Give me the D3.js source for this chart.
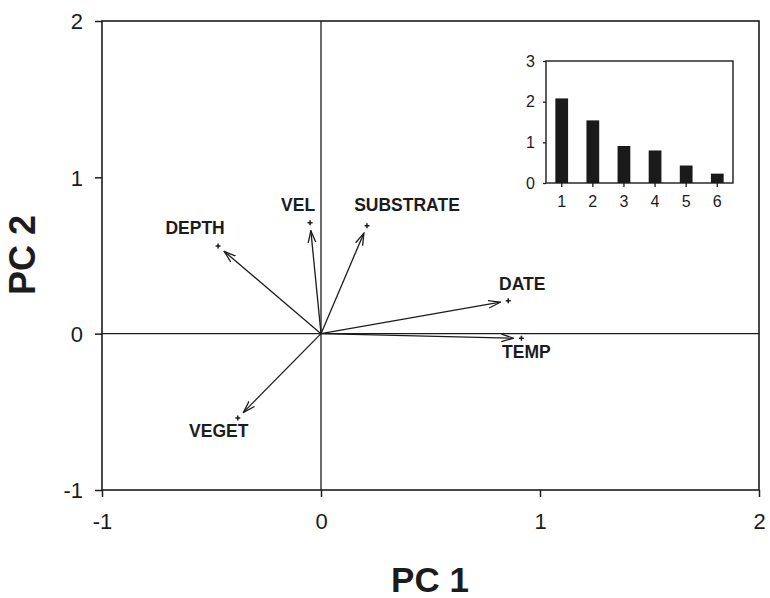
<!DOCTYPE html>
<html>
<head>
<meta charset="utf-8">
<script src="https://cdn.jsdelivr.net/npm/d3@7"></script>
<style>
  body { margin: 0; background: #fff; }
  text { font-family: "Liberation Sans", Arial, sans-serif; fill: #1c1c1c; }
</style>
</head>
<body>
<div id="chart"></div>
<script>
// Loadings of each variable on PC 1 / PC 2
var variables = ["DEPTH", "VEL", "SUBSTRATE", "DATE", "TEMP", "VEGET"];
var pc1 = [-0.47, -0.05, 0.21, 0.855, 0.915, -0.38];
var pc2 = [0.56, 0.71, 0.69, 0.21, -0.03, -0.54];

// Eigenvalues for the inset scree plot
var components = ["1", "2", "3", "4", "5", "6"];
var eigenvalues = [2.08, 1.54, 0.91, 0.80, 0.43, 0.23];

var xTicks = [-1, 0, 1, 2];
var yTicks = [-1, 0, 1, 2];
var insetTicks = [0, 1, 2, 3];

// Where each label sits relative to its point (pixels)
var labelOffset = {
    DEPTH: [-23, -12],
    VEL: [-12, -12],
    SUBSTRATE: [40, -15],
    DATE: [14, -11],
    TEMP: [5, 20],
    VEGET: [-19, 19]
};

var ink = "#1c1c1c";
// plain hyphen for negatives, like the original
var plain = function(d) { return String(d); };

var svg = d3.select("#chart")
    .append("svg")
    .attr("width", 770)
    .attr("height", 598);

// arrowhead: open V
svg.append("defs").append("marker")
    .attr("id", "arrow")
    .attr("viewBox", "0 0 13 10")
    .attr("refX", 12)
    .attr("refY", 5)
    .attr("markerWidth", 13)
    .attr("markerHeight", 10)
    .attr("markerUnits", "userSpaceOnUse")
    .attr("orient", "auto")
  .append("path")
    .attr("d", "M0,1.2 L12,5 L0,8.8")
    .attr("fill", "none")
    .attr("stroke", ink)
    .attr("stroke-width", 1.3);

var x = d3.scaleLinear().domain([-1, 2]).range([102, 759]);
var y = d3.scaleLinear().domain([-1, 2]).range([490, 21]);

// frame
svg.append("rect")
    .attr("x", x(-1))
    .attr("y", y(2))
    .attr("width", x(2) - x(-1))
    .attr("height", y(-1) - y(2))
    .attr("fill", "none")
    .attr("stroke", ink)
    .attr("stroke-width", 1.6);

// zero lines
svg.append("line")
    .attr("x1", x(0)).attr("x2", x(0))
    .attr("y1", y(2)).attr("y2", y(-1))
    .attr("stroke", ink).attr("stroke-width", 1.3);
svg.append("line")
    .attr("x1", x(-1)).attr("x2", x(2))
    .attr("y1", y(0)).attr("y2", y(0))
    .attr("stroke", ink).attr("stroke-width", 1.3);

// axes
var xAxis = svg.append("g")
    .attr("transform", "translate(0," + y(-1) + ")")
    .call(d3.axisBottom(x).tickValues(xTicks).tickSize(7).tickPadding(16).tickFormat(plain));
var yAxis = svg.append("g")
    .attr("transform", "translate(" + x(-1) + ",0)")
    .call(d3.axisLeft(y).tickValues(yTicks).tickSize(7).tickPadding(12).tickFormat(plain));

[xAxis, yAxis].forEach(function(a) {
    a.select(".domain").remove();
    a.selectAll(".tick line").attr("stroke", ink).attr("stroke-width", 1.5);
    a.selectAll(".tick text")
        .attr("font-size", 22)
        .attr("font-family", "Liberation Sans, Arial, sans-serif")
        .attr("fill", ink);
});
yAxis.selectAll(".tick text").attr("dy", "0.36em");

// axis titles
svg.append("text")
    .attr("x", 430)
    .attr("y", 592)
    .attr("text-anchor", "middle")
    .attr("font-size", 35)
    .attr("font-weight", "bold")
    .text("PC 1");

svg.append("text")
    .attr("transform", "translate(35,255) rotate(-90)")
    .attr("text-anchor", "middle")
    .attr("font-size", 36)
    .attr("font-weight", "bold")
    .text("PC 2");

// arrows from origin, stopping just short of each point
var points = variables.map(function(v, i) { return {name: v, x: pc1[i], y: pc2[i]}; });

function shorten(d, axis) {
    var dx = x(d.x) - x(0), dy = y(d.y) - y(0), len = Math.sqrt(dx * dx + dy * dy);
    var k = (len - 8) / len;
    return axis == "x" ? x(0) + dx * k : y(0) + dy * k;
}

svg.selectAll(".vector")
    .data(points)
    .enter()
    .append("line")
    .attr("class", "vector")
    .attr("x1", x(0))
    .attr("y1", y(0))
    .attr("x2", function(d) { return shorten(d, "x"); })
    .attr("y2", function(d) { return shorten(d, "y"); })
    .attr("stroke", ink)
    .attr("stroke-width", 1.3)
    .attr("marker-end", "url(#arrow)");

// small + markers at the points
var marks = svg.selectAll(".mark")
    .data(points)
    .enter()
    .append("g")
    .attr("class", "mark")
    .attr("transform", function(d) { return "translate(" + x(d.x) + "," + y(d.y) + ")"; });
marks.append("path")
    .attr("d", "M-2.5,0 H2.5 M0,-2.5 V2.5")
    .attr("stroke", ink)
    .attr("stroke-width", 1.5);
marks.append("text")
    .attr("x", function(d) { return labelOffset[d.name][0]; })
    .attr("y", function(d) { return labelOffset[d.name][1]; })
    .attr("text-anchor", "middle")
    .attr("font-size", 17.5)
    .attr("font-weight", "bold")
    .text(function(d) { return d.name; });

// inset scree plot
var ix = d3.scaleBand().domain(components).range([546, 733]).paddingInner(0.59).paddingOuter(0.3);
var iy = d3.scaleLinear().domain([0, 3]).range([183, 61]);

var inset = svg.append("g");
inset.append("rect")
    .attr("x", 546)
    .attr("y", iy(3))
    .attr("width", 733 - 546)
    .attr("height", iy(0) - iy(3))
    .attr("fill", "#fff")
    .attr("stroke", ink)
    .attr("stroke-width", 1.4);

inset.selectAll(".bar")
    .data(eigenvalues)
    .enter()
    .append("rect")
    .attr("class", "bar")
    .attr("x", function(d, i) { return ix(components[i]); })
    .attr("width", ix.bandwidth())
    .attr("y", function(d) { return iy(d); })
    .attr("height", function(d) { return iy(0) - iy(d); })
    .attr("fill", "#1a1a1a");

var ixAxis = inset.append("g")
    .attr("transform", "translate(0," + iy(0) + ")")
    .call(d3.axisBottom(ix).tickSize(4).tickPadding(9));
var iyAxis = inset.append("g")
    .attr("transform", "translate(546,0)")
    .call(d3.axisLeft(iy).tickValues(insetTicks).tickSize(3).tickPadding(8).tickFormat(plain));

[ixAxis, iyAxis].forEach(function(a) {
    a.select(".domain").remove();
    a.selectAll(".tick line").attr("stroke", ink).attr("stroke-width", 1.3);
    a.selectAll(".tick text")
        .attr("font-family", "Liberation Sans, Arial, sans-serif")
        .attr("font-size", 16)
        .attr("fill", ink);
});
</script>
</body>
</html>
